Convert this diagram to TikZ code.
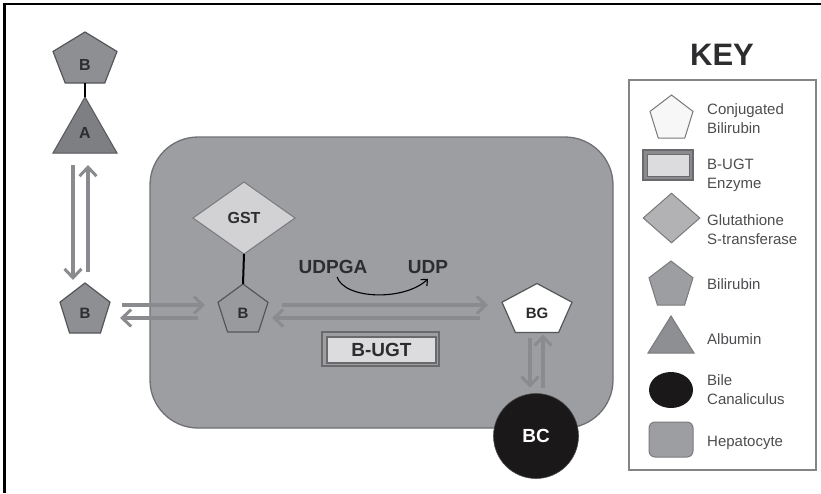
\documentclass[tikz,border=0pt]{standalone}
\usepackage{fontspec}
\setmainfont{Liberation Sans}
\usetikzlibrary{shapes.geometric,arrows.meta,calc}
\definecolor{hepfill}{HTML}{9D9EA2}
\definecolor{hepline}{HTML}{6F7073}
\definecolor{bfill}{HTML}{8E8F92}
\definecolor{bmfill}{HTML}{999A9E}
\definecolor{bline}{HTML}{55565A}
\definecolor{afill}{HTML}{7E7F82}
\definecolor{gstfill}{HTML}{D2D2D4}
\definecolor{gstline}{HTML}{7A7A7D}
\definecolor{arrowc}{HTML}{8A8B8F}
\definecolor{labelc}{HTML}{2D2D2F}
\definecolor{bcfill}{HTML}{1B1819}
\definecolor{ugtfill}{HTML}{DCDCDE}
\definecolor{ugtline}{HTML}{6A6A6D}
\definecolor{keyline}{HTML}{848487}
\definecolor{keytext}{HTML}{4D4D4F}
\newcommand\pentpath[2]{%
  \path[#2] (#1.north) -- ($(#1.north east)!0.382!(#1.south east)$)
    -- ($(#1.south)!0.618!(#1.south east)$) -- ($(#1.south)!0.618!(#1.south west)$)
    -- ($(#1.north west)!0.382!(#1.south west)$) -- cycle;}
\newcommand\tripath[2]{%
  \path[#2] (#1.north) -- (#1.south east) -- (#1.south west) -- cycle;}
\begin{document}
\begin{tikzpicture}[x=1pt,y=-1pt,
  bb/.style={draw=none, fill=none, inner sep=0pt, outer sep=0pt},
  lbl/.style={font=\bfseries\fontsize{15}{18}\selectfont, text=labelc, inner sep=0pt},
  biglbl/.style={font=\bfseries\fontsize{19}{22}\selectfont, text=labelc, inner sep=0pt},
  garrow/.style={draw=arrowc, line width=3.5pt, -{Straight Barb[length=9pt, width=17pt, line width=3pt]}},
  keytxt/.style={font=\fontsize{15}{19}\selectfont, text=keytext, align=left, inner sep=0pt, anchor=west},
  connect/.style={draw=black, line width=2pt}]
\useasboundingbox (0,0) rectangle (821,493);
% frame
\draw[line width=2.5pt, black] (4.7,493) -- (4.7,3.8) -- (821,3.8);
% hepatocyte
\node[draw=hepline, fill=hepfill, line width=1.3pt, rounded corners=48pt,
  minimum width=463pt, minimum height=291pt, inner sep=0pt, outer sep=0pt] (hep) at (381.5,282.5) {};
% top B bound to albumin
\node[bb, minimum width=64pt, minimum height=51pt] (Btop) at (85,57.5) {};
\pentpath{Btop}{fill=bfill, draw=bline, line width=1.2pt}
\node[lbl, font=\bfseries\fontsize{16}{18}\selectfont] (BtopL) at (85,65) {B};
\node[bb, minimum width=64pt, minimum height=56pt] (A) at (85,125) {};
\tripath{A}{fill=afill, draw=bline, line width=1pt}
\node[lbl, font=\bfseries\fontsize{16}{18}\selectfont] (AL) at (85,133) {A};
\draw[connect] (Btop.south) -- (A.north);
% left B
\node[bb, minimum width=50pt, minimum height=50pt] (Bl) at (85,308) {};
\pentpath{Bl}{fill=bfill, draw=bline, line width=1.2pt}
\node[lbl] (BlL) at (85,313) {B};
% GST and middle B
\node[diamond, draw=gstline, fill=gstfill, line width=1pt, minimum width=102pt, minimum height=72pt,
  inner sep=0pt, outer sep=0pt, font=\bfseries\fontsize{16}{18}\selectfont, text=labelc] (GST) at (244,218) {GST};
\node[bb, minimum width=50pt, minimum height=48pt] (Bm) at (243,308) {};
\pentpath{Bm}{fill=bmfill, draw=bline, line width=1.2pt}
\node[lbl] (BmL) at (243,313) {B};
\draw[connect] (GST.south) -- (Bm.north);
% BG
\node[bb, minimum width=70pt, minimum height=49pt] (BG) at (537,308) {};
\pentpath{BG}{fill=white, draw=bline, line width=1.2pt}
\node[lbl] (BGL) at (537,313) {BG};
% BC
\node[circle, fill=bcfill, draw=gray!60!black, line width=0.6pt, minimum size=85pt, inner sep=0pt,
  text=white, font=\bfseries\fontsize{19}{22}\selectfont] (BC) at (536,436) {BC};
% UDPGA -> UDP
\node[biglbl] (udpga) at (333,267) {UDPGA};
\node[biglbl] (udp) at (428,267) {UDP};
\draw[black, line width=1.1pt, -{Straight Barb[length=5pt, width=9pt]}]
  ([xshift=4pt, yshift=-3pt]udpga.south) .. controls +(8,23) and +(-23,22) .. ([yshift=-5pt]udp.south);
% B-UGT enzyme
\node[draw=ugtline, fill=hepfill, line width=1.5pt, minimum width=117pt, minimum height=34pt,
  inner sep=0pt, outer sep=0pt] (bugto) at (380.5,349) {};
\node[draw=ugtline, fill=ugtfill, line width=1.2pt, minimum width=109pt, minimum height=26pt,
  inner sep=0pt, outer sep=0pt, font=\bfseries\fontsize{19}{22}\selectfont, text=labelc] (bugt) at (381.5,350) {B-UGT};
% arrows
\draw[garrow] ([xshift=-12pt, yshift=-12pt]A.south) -- ([xshift=-12pt, yshift=3pt]Bl.north);
\draw[garrow] ([xshift=3pt, yshift=11pt]Bl.north) -- ([xshift=3pt, yshift=-12pt]A.south);
\draw[garrow] ([xshift=12pt, yshift=3pt]Bl.east) -- ([xshift=-13pt, yshift=3pt]Bm.west);
\draw[garrow] ([xshift=-20pt, yshift=-10pt]Bm.west) -- ([xshift=10pt, yshift=-10pt]Bl.east);
\draw[garrow] ([xshift=14pt, yshift=3pt]Bm.east) -- ([xshift=-14pt, yshift=3pt]BG.west);
\draw[garrow] ([xshift=-22pt, yshift=-10pt]BG.west) -- ([xshift=4pt, yshift=-10pt]Bm.east);
\draw[garrow] ([xshift=-7pt, yshift=-5.5pt]BG.south) -- ([xshift=-6pt, yshift=5.5pt]BC.north);
\draw[garrow] ([xshift=7pt, yshift=5.5pt]BC.north) -- ([xshift=6pt, yshift=-2pt]BG.south);
% KEY
\node[font=\bfseries\fontsize{31}{31}\selectfont, text=labelc, inner sep=0pt] (KEY) at (722,55) {KEY};
\node[draw=keyline, line width=2pt, minimum width=187pt, minimum height=390pt, inner sep=0pt, outer sep=0pt] (keybox) at (722.5,275) {};
% key icons
\node[bb, minimum width=43pt, minimum height=43pt] (k1) at (671.5,116.5) {};
\pentpath{k1}{fill=white!97!black, draw=bline!80, line width=1pt}
\node[draw=ugtline, fill=arrowc, line width=1.5pt, minimum width=50pt, minimum height=30pt, inner sep=0pt, outer sep=0pt] (k2o) at (668,165) {};
\node[draw=ugtline, fill=ugtfill, line width=1pt, minimum width=42pt, minimum height=22pt, inner sep=0pt, outer sep=0pt] (k2) at (668,165) {};
\node[diamond, draw=gstline, fill=gstfill!85!black, line width=1pt, minimum width=57pt, minimum height=50pt, inner sep=0pt] (k3) at (671.5,218) {};
\node[bb, minimum width=44pt, minimum height=44pt] (k4) at (671,283) {};
\pentpath{k4}{fill=hepfill, draw=gstline, line width=1pt}
\node[bb, minimum width=46pt, minimum height=37pt] (k5) at (671,334.5) {};
\tripath{k5}{fill=bfill, draw=gstline, line width=1pt}
\node[ellipse, fill=bcfill, minimum width=44pt, minimum height=36pt, inner sep=0pt] (k6) at (671,390) {};
\node[draw=gstline, fill=hepfill, line width=1pt, rounded corners=6pt, minimum width=44pt, minimum height=35pt, inner sep=0pt] (k7) at (671,439.5) {};
% key texts
\node[keytxt] (t1) at (707,119) {Conjugated\\Bilirubin};
\node[keytxt] (t2) at (707,175) {B-UGT\\Enzyme};
\node[keytxt] (t3) at (707,230) {Glutathione\\S-transferase};
\node[keytxt] (t4) at (707,284) {Bilirubin};
\node[keytxt] (t5) at (707,339) {Albumin};
\node[keytxt] (t6) at (707,390) {Bile\\Canaliculus};
\node[keytxt] (t7) at (707,443) {Hepatocyte};
\end{tikzpicture}
\end{document}
